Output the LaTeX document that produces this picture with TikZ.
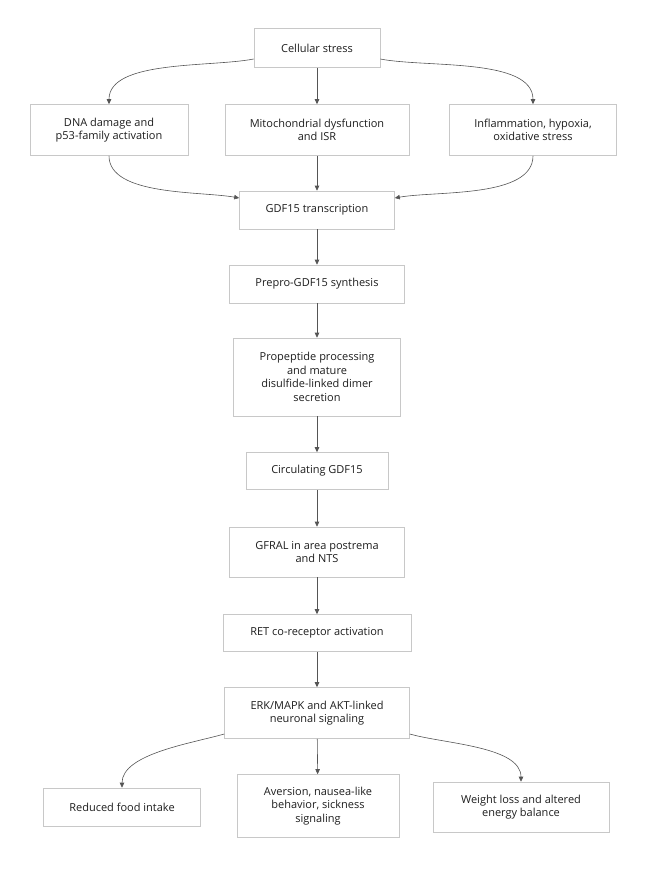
\documentclass[tikz,border=0pt]{standalone}
\usepackage{fontspec}
\setmainfont{Open Sans}
\definecolor{boxgray}{RGB}{200, 200, 200}
\definecolor{flowgray}{RGB}{85, 85, 85}
\definecolor{textgray}{RGB}{30, 30, 30}
\usetikzlibrary{arrows.meta, positioning}

\begin{document}
\begin{tikzpicture}[x=1pt, y=-1pt,
    stepbox/.style={draw=boxgray, fill=white, line width=0.6pt, align=center, inner sep=2pt, text=textgray, font=\fontsize{11}{13.5}\selectfont},
    flow/.style={draw=flowgray, line width=0.6pt, -{Triangle[length=5pt, width=4.5pt]}}]
  \useasboundingbox (0, 0) rectangle (648, 880);

  % Trigger
  \node[stepbox, minimum width=126pt, minimum height=39pt] (stress) at (317, 48) {Cellular stress};

  % Stress sources
  \node[stepbox, minimum width=158pt, minimum height=51pt] (dna) at (109, 130) {DNA damage and\\p53-family activation};
  \node[stepbox, minimum width=184pt, minimum height=51pt] (mito) at (317, 130) {Mitochondrial dysfunction\\and ISR};
  \node[stepbox, minimum width=167pt, minimum height=51pt] (inflam) at (533, 130) {Inflammation, hypoxia,\\oxidative stress};

  % Production chain
  \node[stepbox, minimum width=155pt, minimum height=38pt] (transc) at (317, 210) {GDF15 transcription};
  \node[stepbox, minimum width=175pt, minimum height=38pt] (prepro) at (317, 284) {Prepro-GDF15 synthesis};
  \node[stepbox, minimum width=167pt, minimum height=78pt] (propep) at (317, 377) {Propeptide processing\\and mature\\disulfide-linked dimer\\secretion};
  \node[stepbox, minimum width=142pt, minimum height=37pt] (circ) at (317, 471) {Circulating GDF15};

  % Receptor and signaling
  \node[stepbox, minimum width=175pt, minimum height=50pt] (gfral) at (317, 552) {GFRAL in area postrema\\and NTS};
  \node[stepbox, minimum width=188pt, minimum height=37pt] (ret) at (317, 633) {RET co-receptor activation};
  \node[stepbox, minimum width=185pt, minimum height=51pt] (erk) at (317, 713) {ERK/MAPK and AKT-linked\\neuronal signaling};

  % Outcomes
  \node[stepbox, minimum width=157pt, minimum height=38pt] (food) at (122, 807) {Reduced food intake};
  \node[stepbox, minimum width=162pt, minimum height=63pt] (aversion) at (318, 806) {Aversion, nausea-like\\behavior, sickness\\signaling};
  \node[stepbox, minimum width=176pt, minimum height=50pt] (weight) at (521, 807) {Weight loss and altered\\energy balance};

  % Fan out
  \draw[flow] (stress.west |- 0, 59) to[out=191, in=90, looseness=0.75] (dna.north);
  \draw[flow] (stress) -- (mito);
  \draw[flow] (stress.east |- 0, 59) to[out=-11, in=90, looseness=0.75] (inflam.north);

  % Fan in
  \draw[flow] (dna.south) to[out=-90, in=170, looseness=0.75] (transc.west |- 0, 198);
  \draw[flow] (mito) -- (transc);
  \draw[flow] (inflam.south) to[out=-90, in=10, looseness=0.75] (transc.east |- 0, 198);

  % Chain
  \draw[flow] (transc) -- (prepro);
  \draw[flow] (prepro) -- (propep);
  \draw[flow] (propep) -- (circ);
  \draw[flow] (circ) -- (gfral);
  \draw[flow] (gfral) -- (ret);
  \draw[flow] (ret) -- (erk);

  % Outcomes
  \draw[flow] (erk.west |- 0, 734) to[out=196, in=90, looseness=0.75] (food.north);
  \draw[flow] (erk) -- (aversion);
  \draw[flow] (erk.east |- 0, 734) to[out=-16, in=90, looseness=0.75] (weight.north);
\end{tikzpicture}
\end{document}
